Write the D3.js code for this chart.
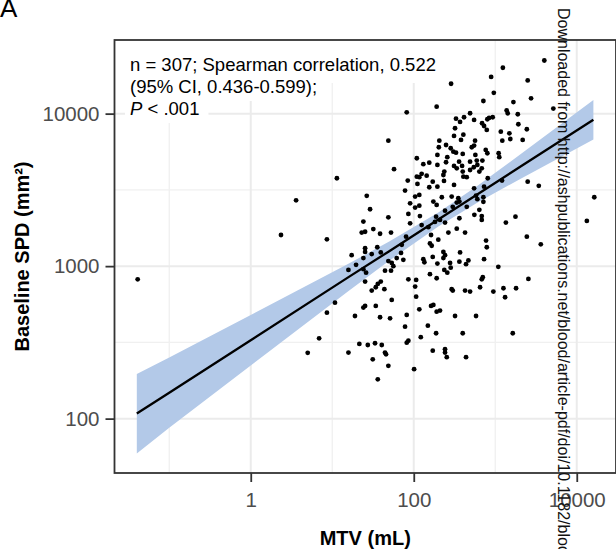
<!DOCTYPE html>
<html>
<head>
<meta charset="utf-8">
<script src="https://cdn.jsdelivr.net/npm/d3@7"></script>
<style>
  body { margin: 0; background: #fff; }
  svg { display: block; font-family: "Liberation Sans", Arial, sans-serif; }
</style>
</head>
<body>
<div id="chart"></div>
<script>
// Scatter data, MTV (mL) vs baseline SPD (mm2)
const mtv = [
  0.041, 2.35, 3.6, 8.6, 8.6, 6.9, 5.0,
  4000, 1240, 890, 287, 2500, 960, 2750, 715, 1670, 191, 5160, 82, 1380, 1420, 1890, 491, 414, 330, 550, 370,
  840, 930, 800, 689, 729, 1920, 321, 787, 2440, 1170, 1490, 406, 312, 48.8, 206, 565, 1220, 1530, 2170, 380,
  249, 203, 284, 515, 764, 330, 399, 1100, 195, 258, 570, 1120, 109, 155, 131, 360, 491, 593, 695, 195,
  312, 392, 545, 683, 57.3, 237, 337, 399, 491, 125, 84.4, 11.4, 109, 231, 447, 117, 312, 406, 78.2, 111,
  155, 550, 729, 1210, 2500, 3420, 26.5, 104, 117, 221, 292, 352, 603, 715, 16400, 29.1, 90.2, 104, 117, 191,
  242, 337, 638, 683, 554, 1770, 48.8, 85.9, 119, 188, 363, 210, 24.1, 1350, 13300, 90.2, 125, 242, 151, 337,
  23, 38.6, 52.6, 31.9, 80.5, 266, 426, 2440,
  25.3, 249, 638, 171, 144, 235, 195, 809, 363, 581, 715, 174, 301, 447, 683, 182, 306, 550, 800, 603, 163,
  158, 166, 200, 3620, 771, 787, 17.3, 25.3, 25.3, 35.7, 30.5, 39.4, 24.1, 71.3, 69.8, 61.8, 131, 135, 171,
  231, 242, 231, 195, 279, 370, 363, 468, 438, 729, 1090, 15.8, 19.6, 24.1, 26, 53.7, 48.8, 56.2, 44.4, 52.6,
  74.5, 237, 258, 284, 158, 25.3, 85.9, 107, 191, 104, 107, 703, 683, 2550, 10.8, 36.2, 39.4, 30.5, 34.2,
  43.6, 53.7, 25.3, 24.1, 34.2, 19, 38.6, 51.2, 82, 78.2, 117, 163, 174, 191, 210, 149, 188, 85.9, 82, 122,
  292, 301, 426, 491, 651, 948, 1260, 1320, 1800, 321, 581, 399, 1640, 15.8, 21.5, 27.3, 33.5, 40.5, 44.4,
  45.7, 31.4, 48.8, 36.2, 101, 171, 242, 242, 254, 438
];
const spd = [
  820, 1600, 2700, 1500, 495, 336, 270,
  22300, 20000, 17400, 15700, 16500, 13700, 12600, 12100, 11900, 11100, 10800, 10200, 10500, 10060, 9910, 10060, 9470, 9270, 9100, 8830,
  9370, 9470, 9190, 8650, 8300, 8520, 8020, 7820, 7900, 7620, 7430, 7280, 7140, 6650, 6650, 6650, 6650, 6820, 6720, 6720,
  6230, 6020, 5930, 6020, 5780, 5550, 5440, 5500, 5360, 5180, 5360, 5180, 5100, 4770, 4660, 4840, 4840, 4920, 4920, 4610,
  4540, 4540, 4450, 4380, 4320, 4170, 4380, 4170, 4270, 4030, 3640, 3770, 3860, 3960, 3830, 3830, 3410, 3860, 3130, 3460,
  3290, 3240, 3320, 3640, 3580, 3360, 2890, 2860, 2930, 2830, 2860, 2790, 2750, 2830, 2830, 2360, 2580, 2420, 2490, 2520,
  2310, 2610, 2340, 2130, 2170, 2110, 2090, 2200, 2130, 2110, 2060, 2010, 1960, 1930, 1980, 1910, 1860, 1930, 1800, 1760,
  1660, 1630, 1660, 1750, 1560, 1660, 1660, 1560,
  1680, 4800, 4170, 3580, 3920, 3620, 3320, 3770, 2650, 2900, 2640, 2650, 2450, 2450, 2010, 1950, 5630, 6170, 5500, 4610, 1600,
  1410, 1360, 1490, 1390, 1470, 1330, 1180, 1310, 1240, 1330, 1200, 1230, 1130, 1380, 1220, 1130, 1110, 1060, 1150,
  1240, 1180, 1130, 1040, 1050, 1230, 1070, 1090, 1030, 1110, 990, 945, 1020, 955, 906, 1050, 1080, 1000, 934, 934,
  1100, 945, 906, 977, 885, 792, 820, 812, 833, 734, 631, 846, 820, 824, 576, 764, 792, 691, 727,
  706, 600, 548, 535, 548, 471, 462, 455, 479, 401, 521, 548, 557, 503, 511, 407, 363, 324, 315, 342,
  706, 691, 691, 681, 727, 681, 716, 625, 716, 471, 471, 363, 363, 271, 309, 304, 312, 304, 271,
  264, 245, 222, 181, 211, 279, 285, 271, 253, 253
];

// Fitted line with 95% band (as drawn in the figure)
const fitX  = [0.04, 0.1, 1, 16, 50, 200, 600, 2000, 16000];
const fitY  = [108, 148, 327, 850, 1253, 2020, 2950, 4470, 9120];
const fitLo = [59, 87, 223, 690, 1084, 1820, 2600, 3720, 6760];
const fitHi = [196, 252, 478, 1040, 1449, 2250, 3350, 5370, 12300];

// Axis breaks
const xMajor = [1, 100, 10000];
const xMinor = [0.1, 10, 1000];
const yMajor = [100, 1000, 10000];
const yMinor = [316, 3162];

const statText = ["n = 307; Spearman correlation, 0.522", "(95% CI, 0.436-0.599);", "< .001"];
const watermark = "Downloaded from http://ashpublications.net/blood/article-pdf/doi/10.1182/blood";

let w = 616, h = 549;
let panel = {left: 114.5, right: 616, top: 40, bottom: 473};

let x = d3.scaleLog().domain([0.0213, 30300]).range([panel.left, panel.right]);
let y = d3.scaleLog().domain([44, 30400]).range([panel.bottom, panel.top]);

let svg = d3.select("#chart")
  .append("svg")
  .attr("width", w)
  .attr("height", h)
  .attr("viewBox", [0, 0, w, h]);

svg.append("rect").attr("width", w).attr("height", h).attr("fill", "#fff");

// Grid
let grid = svg.append("g");
grid.selectAll(".vmin").data(xMinor).join("line")
  .attr("x1", d => x(d)).attr("x2", d => x(d))
  .attr("y1", panel.top).attr("y2", panel.bottom)
  .attr("stroke", "#F0F0F0").attr("stroke-width", 1.3);
grid.selectAll(".hmin").data(yMinor).join("line")
  .attr("y1", d => y(d)).attr("y2", d => y(d))
  .attr("x1", panel.left).attr("x2", panel.right)
  .attr("stroke", "#F0F0F0").attr("stroke-width", 1.3);
grid.selectAll(".vmaj").data(xMajor).join("line")
  .attr("x1", d => x(d)).attr("x2", d => x(d))
  .attr("y1", panel.top).attr("y2", panel.bottom)
  .attr("stroke", "#EBEBEB").attr("stroke-width", 2);
grid.selectAll(".hmaj").data(yMajor).join("line")
  .attr("y1", d => y(d)).attr("y2", d => y(d))
  .attr("x1", panel.left).attr("x2", panel.right)
  .attr("stroke", "#EBEBEB").attr("stroke-width", 2);

// Annotation (white backing per line)
let note = svg.append("g");
let noteBg = note.append("g");
let noteText = note.append("g").attr("font-size", "18.5px").attr("fill", "#000");
let baselines = [71, 93, 115];
noteText.append("text").attr("x", 130).attr("y", baselines[0]).text(statText[0]);
noteText.append("text").attr("x", 130).attr("y", baselines[1]).text(statText[1]);
let t3 = noteText.append("text").attr("x", 130).attr("y", baselines[2]);
t3.append("tspan").attr("font-style", "italic").text("P");
t3.append("tspan").text(" " + statText[2]);

noteText.selectAll("text").each(function(d, i) {
  let bb = this.getBBox();
  noteBg.append("rect")
    .attr("x", bb.x - 5)
    .attr("y", i == 0 ? panel.top + 1 : bb.y - 3)
    .attr("width", bb.width + 14)
    .attr("height", i == 0 ? bb.y + bb.height + 8 - panel.top - 1 : bb.height + 7)
    .attr("fill", "#fff");
});

// Confidence band + fit line
let bandData = fitX.map((v, i) => [v, fitLo[i], fitHi[i], fitY[i]]);
svg.append("path")
  .datum(bandData)
  .attr("d", d3.area().x(d => x(d[0])).y0(d => y(d[1])).y1(d => y(d[2])))
  .attr("fill", "#B3C9E8");
svg.append("path")
  .datum(bandData)
  .attr("d", d3.line().x(d => x(d[0])).y(d => y(d[3])))
  .attr("fill", "none")
  .attr("stroke", "#000")
  .attr("stroke-width", 2.3);

// Points
svg.append("g")
  .selectAll("circle")
  .data(mtv.map((v, i) => [v, spd[i]]))
  .join("circle")
  .attr("cx", d => x(d[0]))
  .attr("cy", d => y(d[1]))
  .attr("r", 2.4)
  .attr("fill", "#000");

note.raise();

// Panel border
svg.append("rect")
  .attr("x", panel.left).attr("y", panel.top)
  .attr("width", panel.right - panel.left).attr("height", panel.bottom - panel.top)
  .attr("fill", "none").attr("stroke", "#333").attr("stroke-width", 1.8);

// Axes
let gx = svg.append("g")
  .attr("transform", `translate(0,${panel.bottom})`)
  .call(d3.axisBottom(x).tickValues(xMajor).tickFormat(d3.format("d")).tickSize(9).tickPadding(10));
let gy = svg.append("g")
  .attr("transform", `translate(${panel.left},0)`)
  .call(d3.axisLeft(y).tickValues(yMajor).tickFormat(d3.format("d")).tickSize(9).tickPadding(6));
[gx, gy].forEach(g => {
  g.attr("font-family", null).attr("font-size", null);
  g.select(".domain").remove();
  g.selectAll(".tick line").attr("stroke", "#333").attr("stroke-width", 1.8);
  g.selectAll(".tick text").attr("fill", "#4D4D4D").style("font-size", "20.5px");
});

// Axis titles
svg.append("text")
  .attr("x", (panel.left + panel.right) / 2)
  .attr("y", 545)
  .attr("text-anchor", "middle")
  .attr("font-weight", "bold")
  .attr("font-size", "20px")
  .text("MTV (mL)");
svg.append("text")
  .attr("transform", `translate(29,${(panel.top + panel.bottom) / 2}) rotate(-90)`)
  .attr("text-anchor", "middle")
  .attr("font-weight", "bold")
  .attr("font-size", "20px")
  .text("Baseline SPD (mm²)");

// Panel tag
svg.append("text").attr("x", 0).attr("y", 17).attr("font-size", "26px").text("A");

// Download watermark
svg.append("text")
  .attr("transform", "translate(558,8) rotate(90)")
  .attr("font-size", "16px")
  .attr("fill", "#111")
  .text(watermark);
</script>
</body>
</html>
